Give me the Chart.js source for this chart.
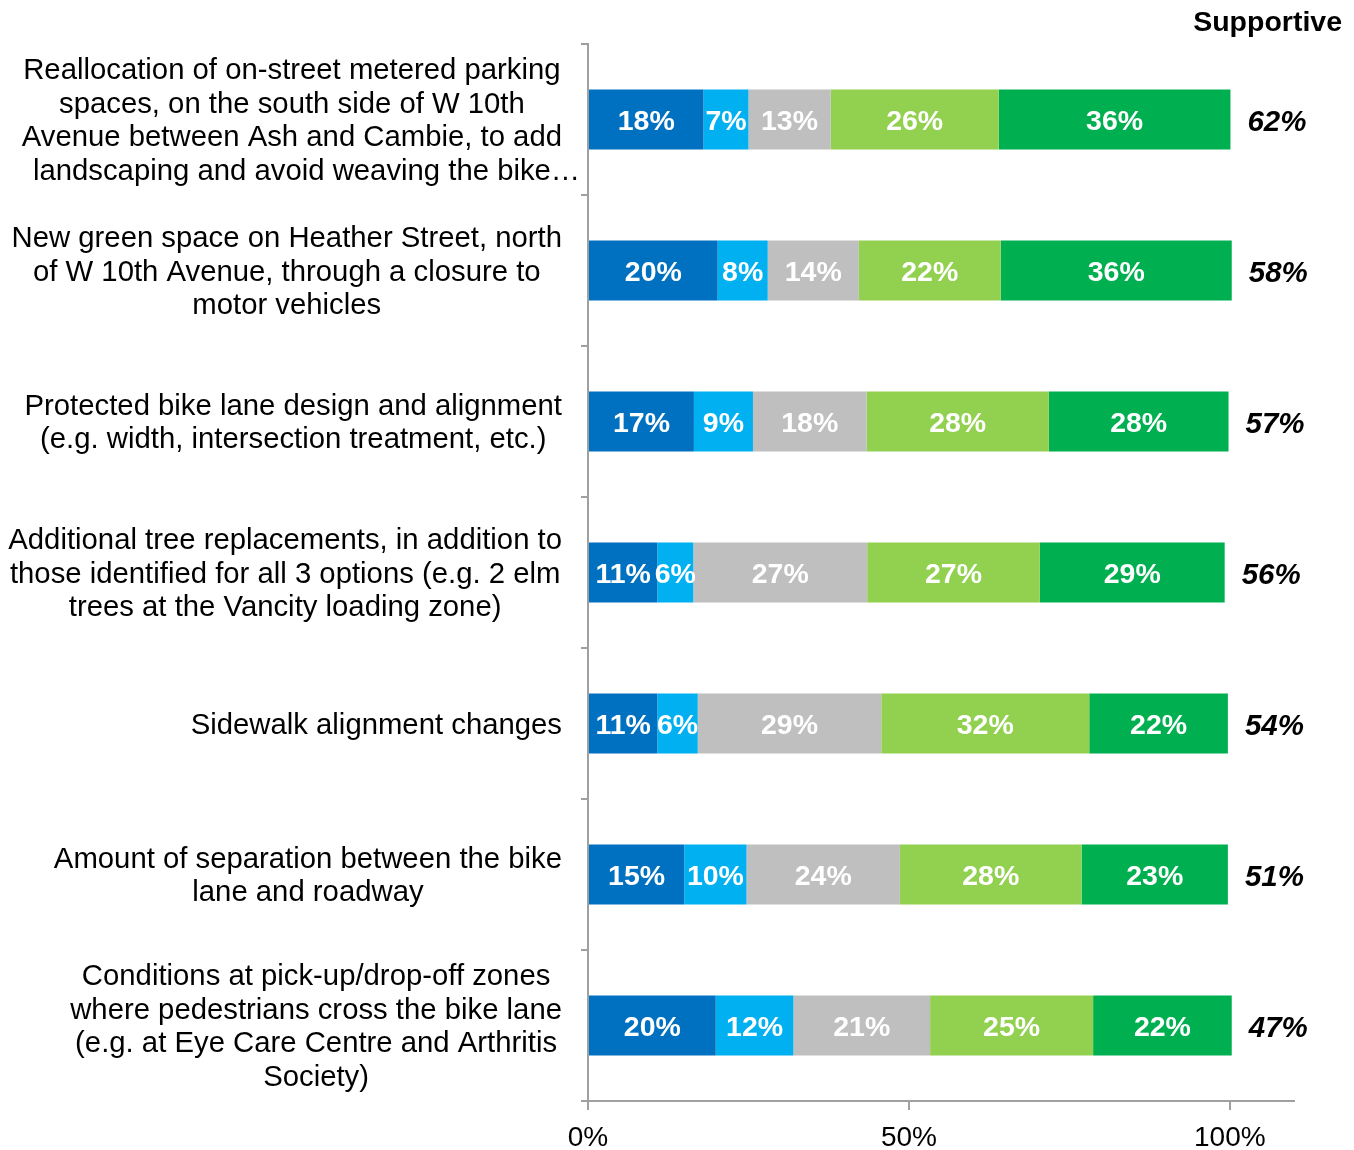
<!DOCTYPE html>
<html>
<head>
<meta charset="utf-8">
<script src="https://cdn.jsdelivr.net/npm/chart.js@4.4.1/dist/chart.umd.min.js"></script>
<style>
  html, body { margin: 0; padding: 0; background: #fff; }
</style>
</head>
<body>
<canvas id="chart" width="1354" height="1150"></canvas>
<script>
const FONT = '"Liberation Sans", Arial, sans-serif';

const categories = [
  ['Reallocation of on-street metered parking', 'spaces, on the south side of W 10th', 'Avenue between Ash and Cambie, to add', 'landscaping and avoid weaving the bike\u2026'],
  ['New green space on Heather Street, north', 'of W 10th Avenue, through a closure to', 'motor vehicles'],
  ['Protected bike lane design and alignment', '(e.g. width, intersection treatment, etc.)'],
  ['Additional tree replacements, in addition to', 'those identified for all 3 options (e.g. 2 elm', 'trees at the Vancity loading zone)'],
  ['Sidewalk alignment changes'],
  ['Amount of separation between the bike', 'lane and roadway'],
  ['Conditions at pick-up/drop-off zones', 'where pedestrians cross the bike lane', '(e.g. at Eye Care Centre and Arthritis', 'Society)']
];

const stronglyOppose  = [18.0, 20.2, 16.5, 10.8, 10.8, 15.0, 19.9];
const somewhatOppose  = [7.0, 7.8, 9.2, 5.6, 6.3, 9.7, 12.1];
const neutral         = [12.8, 14.2, 17.7, 27.1, 28.6, 23.9, 21.3];
const somewhatSupport = [26.2, 22.1, 28.4, 26.9, 32.4, 28.3, 25.4];
const stronglySupport = [36.1, 36.0, 28.0, 28.8, 21.6, 22.8, 21.6];

const supportive = ['62%', '58%', '57%', '56%', '54%', '51%', '47%'];
const xTicks = [0, 50, 100];

const AXIS = '#A0A0A0';

const labelPlugin = {
  id: 'labelPlugin',
  afterDatasetsDraw(chart) {
    const { ctx, scales: { x, y } } = chart;
    ctx.save();

    // values inside the segments
    ctx.font = 'bold 28.5px ' + FONT;
    ctx.fillStyle = '#fff';
    ctx.textAlign = 'center';
    ctx.textBaseline = 'middle';
    chart.data.datasets.forEach((ds, i) => {
      chart.getDatasetMeta(i).data.forEach((bar, j) => {
        ctx.fillText(Math.round(ds.data[j]) + '%', (bar.x + bar.base) / 2, bar.y + 3);
      });
    });

    // supportive totals
    ctx.font = 'italic bold 29.5px ' + FONT;
    ctx.fillStyle = '#000';
    ctx.textAlign = 'left';
    categories.forEach((c, j) => {
      const sum = chart.data.datasets.reduce((s, ds) => s + ds.data[j], 0);
      ctx.fillText(supportive[j], x.getPixelForValue(sum) + 17, y.getPixelForValue(j) + 3);
    });

    // category labels: lines centered, block right-aligned; a trailing ellipsis hangs past the centre
    ctx.font = '29.3px ' + FONT;
    ctx.textAlign = 'left';
    const right = 562, lh = 33.7;
    const core = l => l.replace(/\u2026$/, '');
    categories.forEach((lines, j) => {
      const widest = Math.max(...lines.map(l => ctx.measureText(core(l)).width));
      const cx = right - widest / 2;
      const cy = y.getPixelForValue(j) + 2;
      const top = cy - (lines.length - 1) * lh / 2;
      lines.forEach((l, k) => ctx.fillText(l, cx - ctx.measureText(core(l)).width / 2, top + k * lh));
    });

    // header
    ctx.font = 'bold 28.5px ' + FONT;
    ctx.textAlign = 'right';
    ctx.fillText('Supportive', 1342, 23);

    ctx.restore();
  }
};

const mk = (label, data, color) => ({ label, data, backgroundColor: color, borderWidth: 0 });

new Chart(document.getElementById('chart'), {
  type: 'bar',
  data: {
    labels: categories,
    datasets: [
      mk('Strongly oppose', stronglyOppose, '#0070C0'),
      mk('Somewhat oppose', somewhatOppose, '#00B0F0'),
      mk('Neutral', neutral, '#BFBFBF'),
      mk('Somewhat support', somewhatSupport, '#92D050'),
      mk('Strongly support', stronglySupport, '#00B050')
    ]
  },
  options: {
    indexAxis: 'y',
    responsive: false,
    animation: false,
    layout: { padding: { top: 44, right: 60, left: 0, bottom: 0 } },
    plugins: { legend: { display: false }, tooltip: { enabled: false } },
    categoryPercentage: 60 / 151,
    barPercentage: 1,
    scales: {
      x: {
        stacked: true,
        min: 0,
        max: 110,
        afterBuildTicks: s => { s.ticks = xTicks.map(v => ({ value: v })); },
        afterFit: s => { s.height = 49; },
        ticks: {
          callback: v => v + '%',
          color: '#000',
          font: { family: FONT, size: 28 },
          padding: 11,
          maxRotation: 0
        },
        grid: { drawOnChartArea: false, color: AXIS, lineWidth: 2, tickLength: 9 },
        border: { color: AXIS, width: 2 }
      },
      y: {
        stacked: true,
        afterFit: s => { s.width = 588; },
        ticks: { display: false },
        grid: { drawOnChartArea: false, offset: true, color: AXIS, lineWidth: 2, tickLength: 7 },
        border: { color: AXIS, width: 2 }
      }
    }
  },
  plugins: [labelPlugin]
});
</script>
</body>
</html>
